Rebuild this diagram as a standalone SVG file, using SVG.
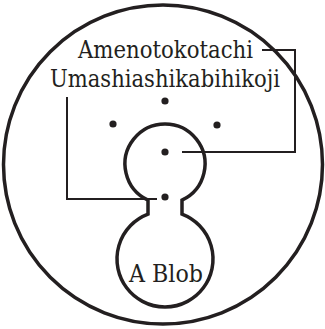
<svg xmlns="http://www.w3.org/2000/svg" width="325" height="329" viewBox="0 0 325 329">
<style>
.lbl{font-family:'DejaVu Serif',serif;font-size:24px;fill:#231f20;text-anchor:middle}
.stk{fill:none;stroke:#231f20}
.dot{fill:#231f20}
</style>
<rect width="325" height="329" fill="#fff"/>
<g id="world"><circle class="stk" cx="163" cy="164.5" r="159.5" stroke-width="3.5"/></g>
<g id="blob">
<path class="stk" stroke-width="3.5" d="M148,200.2 A40,40 0 1 1 182,200.2 L182,214.1 A48,48 0 1 1 148,214.1 Z"/>
<text class="lbl" x="166" y="282" textLength="74" lengthAdjust="spacingAndGlyphs">A Blob</text>
</g>
<g id="label"><text class="lbl" x="165.5" y="58" textLength="175" lengthAdjust="spacingAndGlyphs">Amenotokotachi</text><text class="lbl" x="165" y="87" textLength="230" lengthAdjust="spacingAndGlyphs">Umashiashikabihikoji</text></g>
<g id="dots">
<circle class="dot" cx="165" cy="101" r="3.6"/>
<circle class="dot" cx="113" cy="124" r="3.6"/>
<circle class="dot" cx="217" cy="125" r="3.6"/>
<circle class="dot" cx="165" cy="152" r="3.6"/>
<circle class="dot" cx="165" cy="197" r="3.6"/>
</g>
<g id="connectors">
<polyline class="stk" stroke-width="2" points="262,50 295,50 295,152 182,152"/>
<polyline class="stk" stroke-width="2" points="67,97 67,199 157,199"/>
</g>
</svg>
